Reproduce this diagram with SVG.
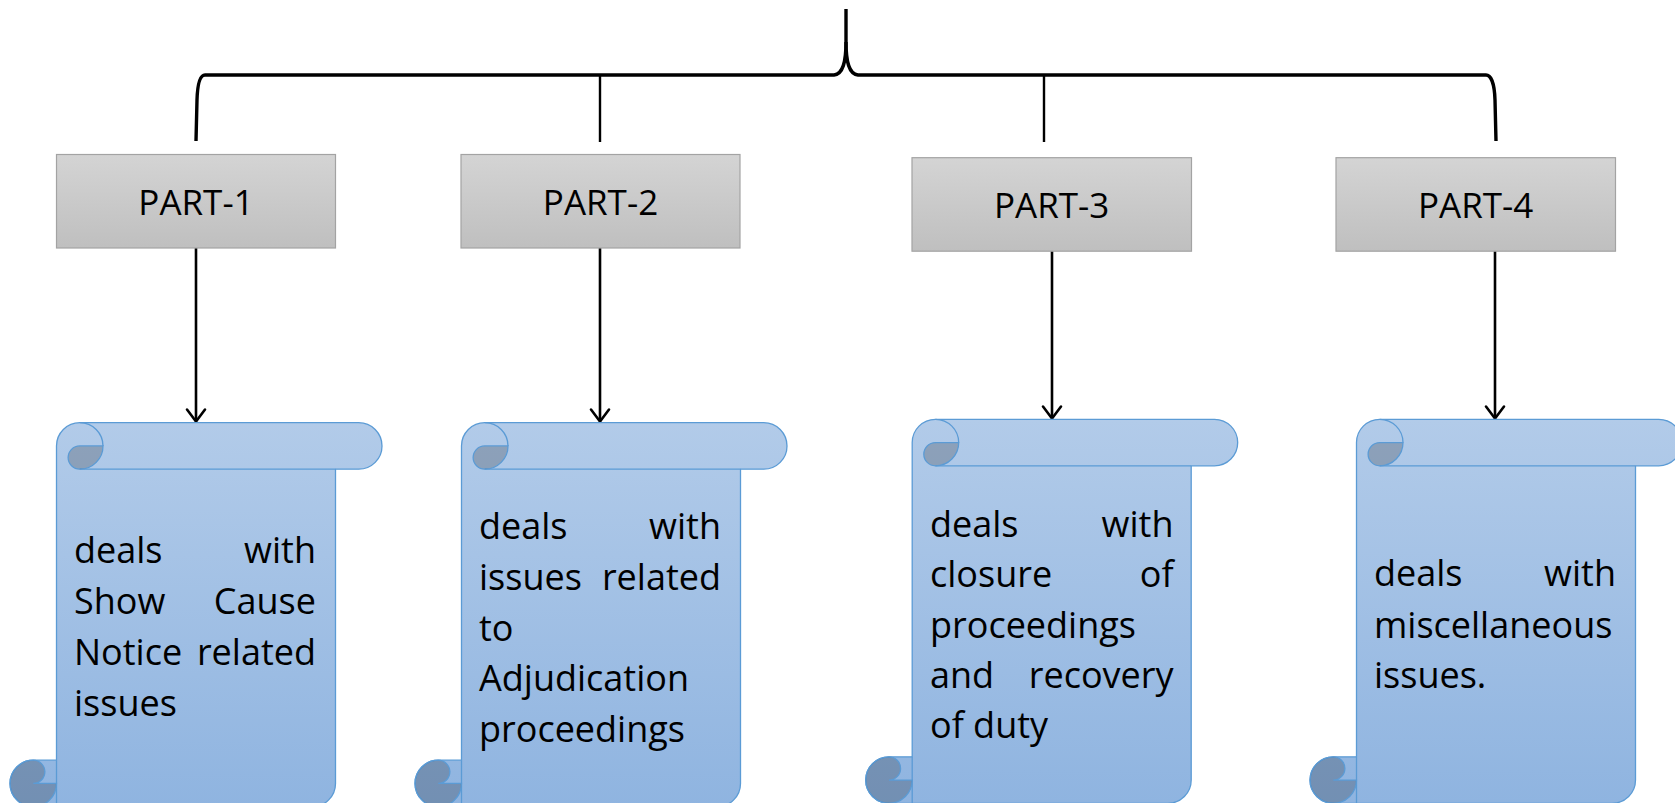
<svg xmlns="http://www.w3.org/2000/svg" xmlns:xlink="http://www.w3.org/1999/xlink" width="1675" height="803" viewBox="0 0 1675 803">
<style>
.box{fill:url(#gGrey);stroke:#a3a3a3;stroke-width:1.2}
.lbl{font-family:"Open Sans","Liberation Sans",sans-serif;font-size:35px;fill:#000;text-anchor:middle}
.txt{font-family:"Open Sans","Liberation Sans",sans-serif;font-size:36px;fill:#000}
.r{text-anchor:end}
.scrollBody{fill:url(#gBlue);stroke:#5b9bd5;stroke-width:1.3;stroke-linejoin:round}
.dark{fill:#000;fill-opacity:0.2;stroke:#5b9bd5;stroke-width:1.3}
.edge{fill:none;stroke:#5b9bd5;stroke-width:1.3}
.brace{fill:none;stroke:#000;stroke-width:3.4}
.tick{fill:none;stroke:#000;stroke-width:2.4}
.arrow{fill:none;stroke:#000;stroke-width:2.6;marker-end:url(#arr)}
</style>
<defs>
<linearGradient id="gGrey" x1="0" y1="0" x2="0" y2="1">
<stop offset="0" stop-color="#d4d4d4"/>
<stop offset="1" stop-color="#bfbfbf"/>
</linearGradient>
<linearGradient id="gBlue" gradientUnits="userSpaceOnUse" x1="0" y1="0" x2="0" y2="384">
<stop offset="0" stop-color="#b2cbe9"/>
<stop offset="1" stop-color="#8fb4e0"/>
</linearGradient>
<marker id="arr" markerUnits="userSpaceOnUse" markerWidth="30" markerHeight="30" viewBox="-15 -15 30 30" refX="0" refY="0" orient="auto">
<path d="M-12,-9 L0,0 L-12,9" fill="none" stroke="#000" stroke-width="2.6" stroke-linejoin="round" stroke-linecap="round"/>
</marker>
<g id="scroll">
<path class="scrollBody" d="M46.5,23.25 A23.25,23.25 0 0 1 69.75,0 L348.75,0 A23.25,23.25 0 0 1 348.75,46.5 L325.5,46.5 L325.5,360.75 A23.25,23.25 0 0 1 302.25,384 L23.25,384 A23.25,23.25 0 0 1 23.25,337.5 L46.5,337.5 Z"/>
<path class="edge" d="M69.75,46.5 L325.5,46.5 M69.75,0 A23.25,23.25 0 0 1 93,23.25 M46.5,337.5 L46.5,384"/>
<path class="dark" d="M69.75,23.25 L93,23.25 A23.25,23.25 0 0 1 69.75,46.5 A11.625,11.625 0 0 1 69.75,23.25 Z"/>
<path class="dark" d="M23.25,337.5 A11.625,11.625 0 0 1 23.25,360.75 L46.5,360.75 A23.25,23.25 0 0 1 23.25,384 A23.25,23.25 0 0 1 23.25,337.5 Z"/>
</g>
</defs>
<rect width="1675" height="803" fill="#fff"/>

<g id="connectors">
<path class="brace" d="M846,9 L846,42 C846,62 843,74 834,75 L205,75 C200,75 197.5,84 197,100 L196,141"/>
<path class="brace" d="M846,42 C846,62 849,74 858,75 L1486,75 C1491,75 1494.5,84 1495,100 L1496,141"/>
<path class="tick" d="M600,75 L600,142 M1044,75 L1044,142"/>
<path class="arrow" d="M196,248 L196,421.5"/>
<path class="arrow" d="M600,248 L600,421.5"/>
<path class="arrow" d="M1052,251 L1052,418.5"/>
<path class="arrow" d="M1495,251 L1495,418.5"/>
</g>

<g id="part1">
<rect class="box" x="56.5" y="154.5" width="279" height="93.5"/>
<text class="lbl" x="196" y="214.5">PART-1</text>
</g>
<g id="part2">
<rect class="box" x="461" y="154.5" width="279" height="93.5"/>
<text class="lbl" x="600.5" y="214.5">PART-2</text>
</g>
<g id="part3">
<rect class="box" x="912" y="157.7" width="279.5" height="93.5"/>
<text class="lbl" x="1051.7" y="218">PART-3</text>
</g>
<g id="part4">
<rect class="box" x="1336" y="157.7" width="279.5" height="93.5"/>
<text class="lbl" x="1475.7" y="218">PART-4</text>
</g>

<g id="scroll1">
<use href="#scroll" xlink:href="#scroll" transform="translate(10,422.7)"/>
<text class="txt" x="74" y="563">deals</text><text class="txt r" x="316" y="563">with</text>
<text class="txt" x="74" y="614">Show</text><text class="txt r" x="316" y="614">Cause</text>
<text class="txt" x="74" y="665">Notice</text><text class="txt r" x="316" y="665">related</text>
<text class="txt" x="74" y="716">issues</text>
</g>
<g id="scroll2">
<use href="#scroll" xlink:href="#scroll" transform="translate(415,422.7)"/>
<text class="txt" x="479" y="539">deals</text><text class="txt r" x="721" y="539">with</text>
<text class="txt" x="479" y="590">issues</text><text class="txt r" x="721" y="590">related</text>
<text class="txt" x="479" y="640.5">to</text>
<text class="txt" x="479" y="691">Adjudication</text>
<text class="txt" x="479" y="742">proceedings</text>
</g>
<g id="scroll3">
<use href="#scroll" xlink:href="#scroll" transform="translate(865.7,419.3)"/>
<text class="txt" x="930" y="537">deals</text><text class="txt r" x="1173.5" y="537">with</text>
<text class="txt" x="930" y="587">closure</text><text class="txt r" x="1173.5" y="587">of</text>
<text class="txt" x="930" y="637.5">proceedings</text>
<text class="txt" x="930" y="688">and</text><text class="txt r" x="1173.5" y="688">recovery</text>
<text class="txt" x="930" y="738">of duty</text>
</g>
<g id="scroll4">
<use href="#scroll" xlink:href="#scroll" transform="translate(1310,419.3)"/>
<text class="txt" x="1374" y="586">deals</text><text class="txt r" x="1616" y="586">with</text>
<text class="txt" x="1374" y="637.5">miscellaneous</text>
<text class="txt" x="1374" y="688">issues.</text>
</g>
</svg>
